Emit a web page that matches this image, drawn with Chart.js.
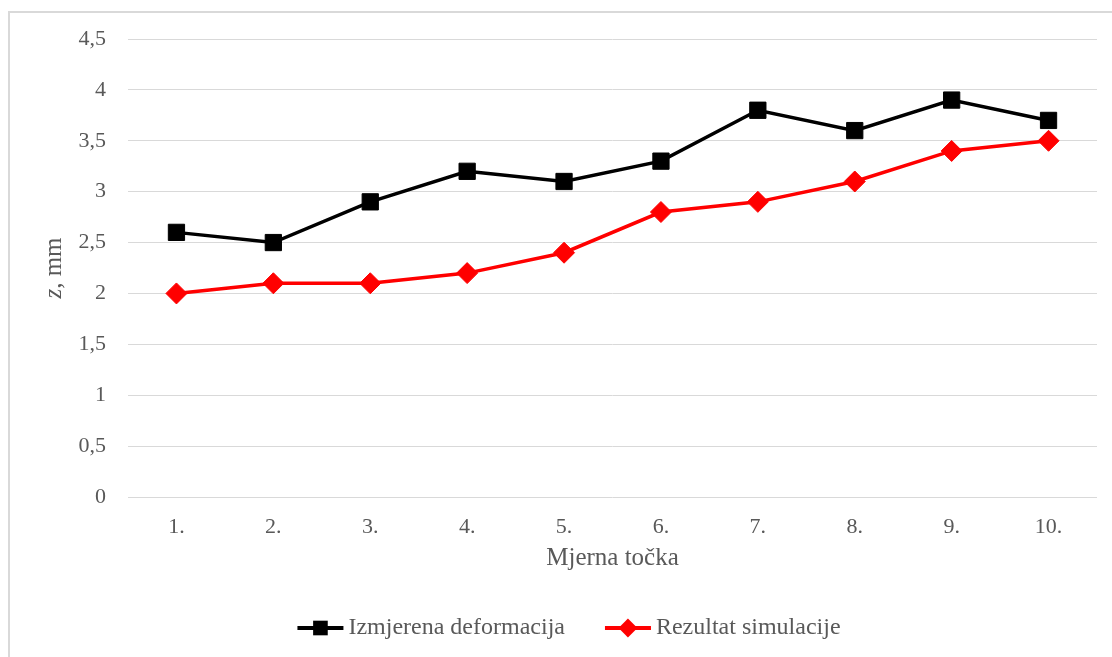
<!DOCTYPE html>
<html>
<head>
<meta charset="utf-8">
<title>Mjerna točka – z, mm</title>
<script src="https://cdn.jsdelivr.net/npm/chart.js@4/dist/chart.umd.min.js"></script>
<style>
  html, body { margin: 0; padding: 0; background: #ffffff; }
  #wrap { position: relative; width: 1112px; height: 657px; }
</style>
</head>
<body>
<div id="wrap"><canvas id="chart"></canvas></div>
<script>
// Measurement points along the x axis
const categories = ['1.', '2.', '3.', '4.', '5.', '6.', '7.', '8.', '9.', '10.'];
// Measured deformation z [mm]
const measured = [2.6, 2.5, 2.9, 3.2, 3.1, 3.3, 3.8, 3.6, 3.9, 3.7];
// Simulation result z [mm]
const simulated = [2.0, 2.1, 2.1, 2.2, 2.4, 2.8, 2.9, 3.1, 3.4, 3.5];
// Series names
const seriesNames = ['Izmjerena deformacija', 'Rezultat simulacije'];
// Axis titles
const xTitle = 'Mjerna točka';
const yTitleVar = 'z';
const yTitleUnit = ', mm';

const SERIF = '"Liberation Serif", "Times New Roman", serif';
const TEXT = '#595959';
const GRID = '#d9d9d9';

// Outer frame of the chart (left and top edges)
const framePlugin = {
  id: 'frame',
  beforeDraw(chart) {
    const ctx = chart.ctx;
    ctx.save();
    ctx.fillStyle = GRID;
    ctx.fillRect(8, 11, 2, chart.height - 11);
    ctx.fillRect(8, 11, chart.width - 8, 2);
    ctx.restore();
  }
};

// Vertical axis title with an italic variable name
const yTitlePlugin = {
  id: 'yTitle',
  afterDraw(chart) {
    const ctx = chart.ctx;
    const area = chart.chartArea;
    const italic = 'italic 25px ' + SERIF;
    const normal = '25px ' + SERIF;
    ctx.save();
    ctx.translate(54, (area.top + area.bottom) / 2);
    ctx.rotate(-Math.PI / 2);
    ctx.textBaseline = 'middle';
    ctx.fillStyle = TEXT;
    ctx.font = italic;
    const w1 = ctx.measureText(yTitleVar).width;
    ctx.font = normal;
    const w2 = ctx.measureText(yTitleUnit).width;
    let x = -(w1 + w2) / 2;
    ctx.font = italic;
    ctx.textAlign = 'left';
    ctx.fillText(yTitleVar, x, 0);
    ctx.font = normal;
    ctx.fillText(yTitleUnit, x + w1, 0);
    ctx.restore();
  }
};

function drawMarker(ctx, style, r, cx, cy) {
  ctx.beginPath();
  if (style === 'rectRot') {
    ctx.moveTo(cx - r, cy);
    ctx.lineTo(cx, cy - r);
    ctx.lineTo(cx + r, cy);
    ctx.lineTo(cx, cy + r);
  } else {
    const h = r * Math.SQRT1_2;
    ctx.rect(cx - h, cy - h, 2 * h, 2 * h);
  }
  ctx.closePath();
  ctx.fill();
}

// Legend: line-with-marker swatch followed by the series name
const keyPlugin = {
  id: 'seriesKey',
  afterDraw(chart) {
    const ctx = chart.ctx;
    const y = 628;
    const swatch = 46, gap = 5, between = 40;
    ctx.save();
    ctx.font = '24px ' + SERIF;
    const items = chart.data.datasets.map(ds => ({ ds, w: ctx.measureText(ds.label).width }));
    const total = items.reduce((s, it) => s + swatch + gap + it.w, 0) + between * (items.length - 1);
    let x = 569 - total / 2;
    items.forEach(({ ds, w }) => {
      ctx.strokeStyle = ds.borderColor;
      ctx.lineWidth = 4;
      ctx.beginPath();
      ctx.moveTo(x, y);
      ctx.lineTo(x + swatch, y);
      ctx.stroke();
      ctx.fillStyle = ds.pointBackgroundColor;
      drawMarker(ctx, ds.pointStyle, ds.pointRadius * 0.9, x + swatch / 2, y);
      ctx.fillStyle = TEXT;
      ctx.textBaseline = 'middle';
      ctx.textAlign = 'left';
      ctx.fillText(ds.label, x + swatch + gap, y);
      x += swatch + gap + w + between;
    });
    ctx.restore();
  }
};

new Chart(document.getElementById('chart'), {
  type: 'line',
  data: {
    labels: categories,
    datasets: [
      {
        label: seriesNames[0],
        data: measured,
        borderColor: '#000000',
        backgroundColor: '#000000',
        borderWidth: 3.5,
        pointStyle: 'rect',
        pointRadius: 11.5,
        pointBackgroundColor: '#000000',
        pointBorderColor: '#000000',
        pointBorderWidth: 1,
        tension: 0,
        fill: false
      },
      {
        label: seriesNames[1],
        data: simulated,
        borderColor: '#ff0000',
        backgroundColor: '#ff0000',
        borderWidth: 3.5,
        pointStyle: 'rectRot',
        pointRadius: 10.5,
        pointBackgroundColor: '#ff0000',
        pointBorderColor: '#ff0000',
        pointBorderWidth: 1,
        tension: 0,
        fill: false
      }
    ]
  },
  options: {
    responsive: true,
    maintainAspectRatio: false,
    animation: false,
    devicePixelRatio: 1,
    events: [],
    layout: { padding: { top: 39, right: 15, bottom: 0, left: 0 } },
    plugins: {
      legend: { display: false },
      tooltip: { enabled: false },
      title: { display: false }
    },
    scales: {
      x: {
        type: 'category',
        offset: true,
        grid: { display: false, drawTicks: false },
        border: { display: false },
        ticks: {
          color: TEXT,
          font: { family: SERIF, size: 22 },
          padding: 17,
          maxRotation: 0,
          autoSkip: false
        },
        title: {
          display: true,
          text: xTitle,
          color: TEXT,
          font: { family: SERIF, size: 25 },
          padding: { top: 0, bottom: 84 }
        },
        afterFit(scale) { scale.height = 160; }
      },
      y: {
        min: 0,
        max: 4.5,
        grid: { color: GRID, lineWidth: 1, drawTicks: false },
        border: { display: false },
        ticks: {
          stepSize: 0.5,
          color: TEXT,
          font: { family: SERIF, size: 22 },
          padding: 22,
          callback: v => String(v).replace('.', ',')
        },
        afterFit(scale) { scale.width = 128; }
      }
    }
  },
  plugins: [framePlugin, yTitlePlugin, keyPlugin]
});
</script>
</body>
</html>
